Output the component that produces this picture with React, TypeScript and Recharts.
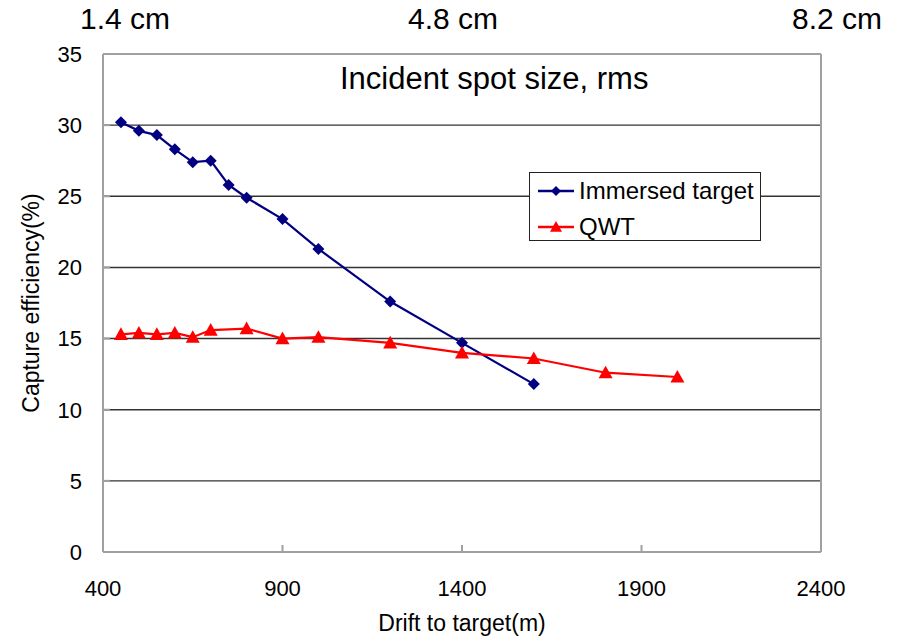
import {
  LineChart,
  Line,
  XAxis,
  YAxis,
  CartesianGrid,
  ReferenceLine,
  Legend,
} from "recharts";

// drift length (m) and capture efficiency (%)
const immersedDrift = [450, 500, 550, 600, 650, 700, 750, 800, 900, 1000, 1200, 1400, 1600];
const immersedEff = [30.2, 29.6, 29.3, 28.3, 27.4, 27.5, 25.8, 24.9, 23.4, 21.3, 17.6, 14.7, 11.8];
const qwtDrift = [450, 500, 550, 600, 650, 700, 800, 900, 1000, 1200, 1400, 1600, 1800, 2000];
const qwtEff = [15.3, 15.4, 15.3, 15.4, 15.1, 15.6, 15.7, 15.0, 15.1, 14.7, 14.0, 13.6, 12.6, 12.3];

const xTicks = [400, 900, 1400, 1900, 2400];
const yTicks = [0, 5, 10, 15, 20, 25, 30, 35];
const spotSizes = ["1.4 cm", "4.8 cm", "8.2 cm"];

const FONT = "'Liberation Sans', Arial, sans-serif";
const BLUE = "#000080";
const RED = "#ff0000";
const FRAME = "#a0a0a0";

const immersed = immersedDrift.map((x, i) => ({ x, y: immersedEff[i] }));
const qwt = qwtDrift.map((x, i) => ({ x, y: qwtEff[i] }));

function Diamond({ cx, cy, fill, r = 6 }: any) {
  if (cx == null || cy == null) return null;
  return (
    <polygon
      points={`${cx},${cy - r} ${cx + r},${cy} ${cx},${cy + r} ${cx - r},${cy}`}
      fill={fill}
    />
  );
}

function Triangle({ cx, cy, fill, r = 6 }: any) {
  if (cx == null || cy == null) return null;
  return (
    <polygon
      points={`${cx},${cy - r} ${cx + r},${cy + r * 0.8} ${cx - r},${cy + r * 0.8}`}
      fill={fill}
    />
  );
}

function LegendBox({ payload }: any) {
  return (
    <div
      style={{
        border: "1.5px solid #222",
        background: "#fff",
        width: 232,
        height: 69,
        boxSizing: "border-box",
        padding: "0 0 0 6px",
        fontFamily: FONT,
        fontSize: 24,
        color: "#000",
      }}
    >
      {(payload || []).map((e: any) => {
        const isBlue = e.value === "Immersed target";
        return (
          <div key={e.value} style={{ display: "flex", alignItems: "center", height: 36 }}>
            <svg width={40} height={16} style={{ marginRight: 3 }}>
              <line x1={2} y1={8} x2={38} y2={8} stroke={e.color} strokeWidth={2.5} />
              {isBlue ? (
                <Diamond cx={20} cy={8} fill={e.color} r={5} />
              ) : (
                <Triangle cx={20} cy={8} fill={e.color} r={6} />
              )}
            </svg>
            <span>{e.value}</span>
          </div>
        );
      })}
    </div>
  );
}

function YTitle({ viewBox }: any) {
  const cx = viewBox.x + 31;
  const cy = viewBox.y + viewBox.height / 2;
  return (
    <text
      x={cx}
      y={cy}
      transform={`rotate(-90, ${cx}, ${cy})`}
      textAnchor="middle"
      dominantBaseline="central"
      fontSize={23}
      fontFamily={FONT}
      fill="#000"
    >
      Capture efficiency(%)
    </text>
  );
}

export default function App() {
  return (
    <div
      style={{
        position: "absolute",
        left: 0,
        top: 0,
        width: 901,
        height: 638,
        background: "#fff",
        fontFamily: FONT,
      }}
    >
      <LineChart
        width={901}
        height={638}
        margin={{ top: 54, right: 80, bottom: 0, left: 0 }}
      >
        <CartesianGrid vertical={false} stroke="#333" strokeWidth={1.4} />
        <XAxis
          type="number"
          dataKey="x"
          domain={[400, 2400]}
          ticks={xTicks}
          height={86}
          stroke={FRAME}
          strokeWidth={2}
          tickSize={-7}
          tickMargin={35}
          tick={{ fontSize: 22, fill: "#000", fontFamily: FONT }}
          label={{
            value: "Drift to target(m)",
            position: "insideBottom",
            offset: 7,
            fontSize: 23,
            fill: "#000",
            fontFamily: FONT,
          }}
        />
        <YAxis
          type="number"
          domain={[0, 35]}
          ticks={yTicks}
          width={103}
          stroke={FRAME}
          strokeWidth={2}
          tickSize={-7}
          tickMargin={28}
          tick={{ fontSize: 22, fill: "#000", fontFamily: FONT }}
          label={<YTitle />}
        />
        <ReferenceLine y={35} stroke={FRAME} strokeWidth={2} />
        <ReferenceLine x={2400} stroke={FRAME} strokeWidth={2} />
        <Line
          data={immersed}
          dataKey="y"
          name="Immersed target"
          type="linear"
          stroke={BLUE}
          strokeWidth={2.2}
          dot={(p: any) => <Diamond key={`b${p.index}`} cx={p.cx} cy={p.cy} fill={BLUE} r={6} />}
          activeDot={false}
          isAnimationActive={false}
        />
        <Line
          data={qwt}
          dataKey="y"
          name="QWT"
          type="linear"
          stroke={RED}
          strokeWidth={2.2}
          dot={(p: any) => <Triangle key={`r${p.index}`} cx={p.cx} cy={p.cy} fill={RED} r={7} />}
          activeDot={false}
          isAnimationActive={false}
        />
        <Legend
          layout="vertical"
          align="center"
          verticalAlign="middle"
          content={<LegendBox />}
          wrapperStyle={{ left: 529, top: 172, width: 232, bottom: "auto" }}
        />
      </LineChart>

      {/* spot size labels above the frame */}
      <div style={{ position: "absolute", left: 80, top: 2, fontSize: 30 }}>{spotSizes[0]}</div>
      <div
        style={{
          position: "absolute",
          left: 353,
          width: 200,
          top: 2,
          fontSize: 30,
          textAlign: "center",
        }}
      >
        {spotSizes[1]}
      </div>
      <div
        style={{ position: "absolute", right: 19, top: 2, fontSize: 30, textAlign: "right" }}
      >
        {spotSizes[2]}
      </div>
      <div
        style={{
          position: "absolute",
          left: 340,
          top: 61,
          fontSize: 31,
          whiteSpace: "nowrap",
        }}
      >
        Incident spot size, rms
      </div>
    </div>
  );
}
